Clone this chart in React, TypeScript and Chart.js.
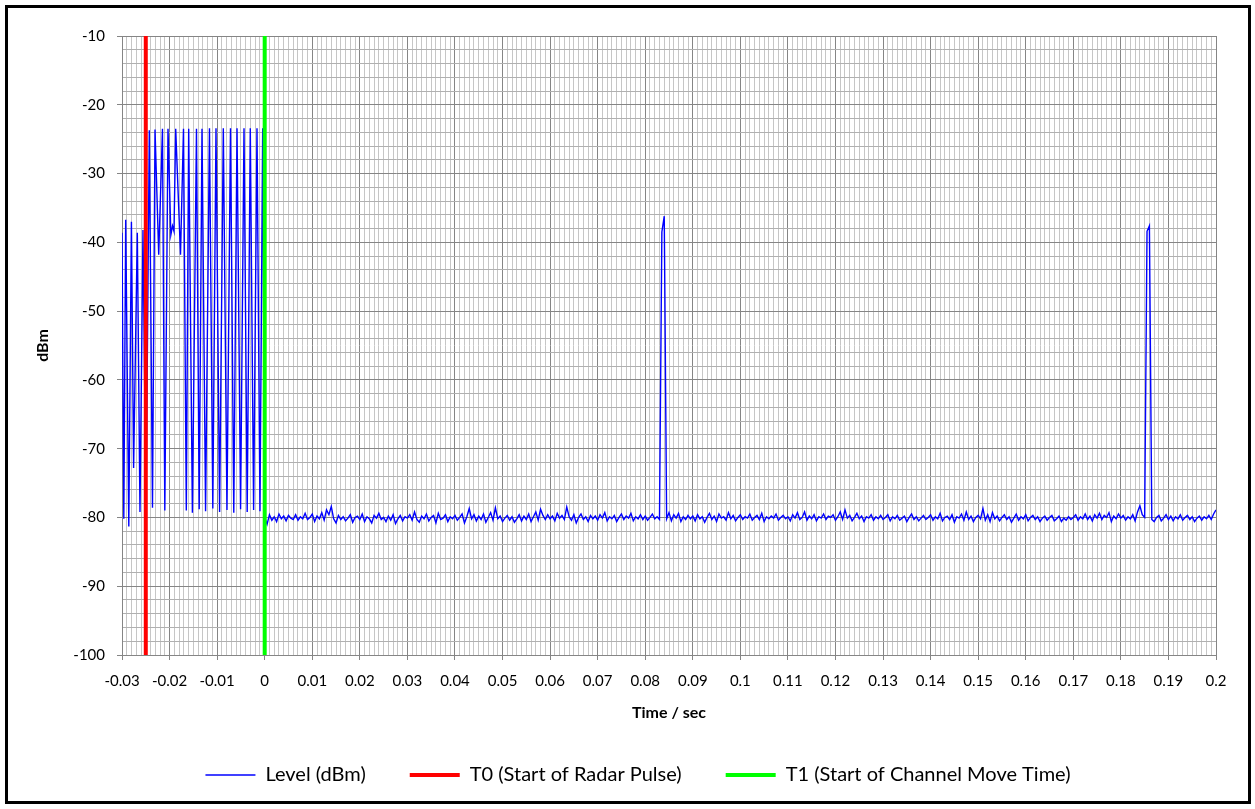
import React, { useEffect, useRef } from "react";
import { Chart, registerables } from "chart.js";

Chart.register(...registerables);

// ---------- DATA ----------
// Pulse section (before T1), time in seconds
const pulseTimes = [
  -0.03, -0.02962, -0.02922, -0.02857, -0.02802, -0.02756, -0.02678, -0.02622, -0.02559, -0.02495,
  -0.02426, -0.02359, -0.02306, -0.02228, -0.02149, -0.021, -0.02033, -0.01973, -0.01938, -0.01907,
  -0.01871, -0.0177, -0.01707, -0.01648, -0.01598, -0.0152, -0.01434, -0.01377, -0.01318, -0.01243,
  -0.01161, -0.01091, -0.01024, -0.00948, -0.0087, -0.00793, -0.00719, -0.0065, -0.00582, -0.00507,
  -0.00435, -0.00368, -0.00303, -0.00233, -0.00162, -0.00099, -0.00042,
];
const pulseLevels = [
  -38.6, -80.2, -36.7, -81.3, -37.0, -72.8, -38.6, -79.2, -38.2, -78.9,
  -23.7, -78.6, -23.6, -41.8, -23.5, -79.0, -23.5, -38.9, -37.6, -38.4,
  -23.5, -41.8, -23.5, -79.0, -23.5, -79.3, -23.5, -78.8, -23.5, -79.1,
  -23.4, -78.7, -23.4, -79.2, -23.4, -78.9, -23.4, -79.3, -23.4, -78.8,
  -23.4, -79.2, -23.4, -78.9, -23.4, -79.1, -23.4,
];

// After T1: samples every 0.5 ms from 0 s to 0.2 s
const noiseStep = 0.0005;
const noiseLevels = [
  -80.0, -81.0, -79.6, -80.4, -79.9, -80.6, -79.5, -80.2, -79.8, -80.5, -79.7, -80.1, -80.3, -79.6, -80.4, -79.9, -80.2, -79.4, -80.3, -80.0,
  -79.5, -80.6, -79.8, -80.2, -79.3, -80.4, -78.9, -79.6, -78.4, -80.2, -80.8, -79.7, -80.3, -79.9, -80.5, -80.1, -79.6, -80.7, -80.0, -79.8,
  -80.3, -79.5, -80.6, -79.9, -80.2, -80.8, -79.7, -80.1, -79.4, -80.3, -80.0, -80.6, -79.8, -80.4, -79.6, -80.9, -80.2, -79.7, -80.5, -79.9,
  -80.1, -79.6, -80.4, -79.2, -80.3, -80.7, -79.8, -80.2, -79.5, -80.5, -80.0, -79.7, -80.8, -79.4, -80.3, -80.1, -79.6, -80.6, -79.9, -80.2,
  -79.7, -80.4, -80.0, -79.5, -80.8, -79.9, -78.7, -80.2, -79.6, -80.5, -79.8, -80.3, -79.5, -80.7, -80.0, -79.3, -80.4, -78.6, -80.2, -79.8,
  -80.6, -80.1, -79.7, -80.4, -79.9, -80.7, -80.2, -79.6, -80.5, -79.8, -80.3, -79.5, -80.6, -79.9, -79.2, -80.4, -78.8, -79.7, -80.3, -79.6,
  -80.2, -79.8, -80.5, -79.4, -80.1, -79.7, -80.3, -78.5, -79.9, -80.4, -79.6, -80.8, -80.0, -79.5, -80.3, -79.9, -80.6, -79.7, -80.2, -79.8,
  -80.4, -79.6, -80.1, -79.3, -80.5, -79.9, -80.2, -79.7, -80.6, -80.0, -79.5, -80.3, -79.8, -80.1, -79.4, -80.5, -79.9, -80.2, -79.6, -80.3,
  -79.8, -80.4, -80.0, -79.5, -80.2, -79.9, -80.3, -38.5, -36.2, -80.2, -79.3, -80.5, -79.6, -80.1, -79.4, -80.6, -79.9, -80.3, -79.7, -80.2,
  -79.8, -80.5, -79.6, -80.2, -79.9, -80.7, -80.0, -79.4, -80.3, -79.8, -80.6, -79.5, -80.1, -79.9, -80.4, -79.3, -80.2, -79.7, -80.5, -80.0,
  -79.6, -80.3, -79.9, -80.1, -79.5, -80.4, -80.0, -79.7, -80.3, -79.4, -80.6, -79.9, -80.2, -79.8, -80.1, -79.5, -80.4, -80.0, -79.7, -80.2,
  -79.9, -80.5, -79.6, -80.1, -79.3, -80.3, -80.0, -79.2, -80.4, -79.8, -80.2, -79.6, -80.5, -79.9, -80.1, -79.5, -80.3, -79.8, -80.0, -79.6,
  -80.4, -79.9, -79.2, -80.3, -78.9, -80.1, -79.7, -80.5, -80.0, -79.4, -80.2, -79.8, -80.6, -79.9, -80.1, -79.6, -80.4, -79.9, -80.2, -79.7,
  -80.3, -80.0, -79.6, -80.5, -79.9, -80.2, -79.7, -80.4, -80.1, -79.8, -80.6, -80.0, -79.5, -80.3, -79.9, -80.5, -80.1, -79.7, -80.3, -80.0,
  -79.6, -80.4, -79.9, -80.2, -79.4, -80.5, -80.0, -79.8, -80.3, -79.6, -80.7, -79.9, -80.1, -79.5, -80.4, -79.2, -80.3, -79.8, -80.6, -80.0,
  -79.7, -80.2, -78.7, -80.4, -79.6, -80.6, -79.3, -80.2, -79.8, -80.5, -80.0, -79.6, -80.3, -79.9, -80.7, -80.1, -79.5, -80.4, -79.9, -80.2,
  -79.6, -80.5, -80.0, -79.7, -80.3, -79.9, -80.6, -80.1, -79.8, -80.4, -80.0, -79.7, -80.5, -80.2, -79.8, -80.6, -80.1, -80.4, -79.9, -80.3,
  -80.0, -79.6, -80.4, -79.9, -80.2, -79.5, -80.3, -79.8, -80.5, -79.6, -80.1, -79.4, -80.3, -79.7, -80.0, -79.3, -80.6, -79.8, -80.2, -79.5,
  -80.1, -79.7, -80.4, -79.9, -80.2, -79.6, -80.5, -79.2, -78.3, -79.6, -80.0, -38.4, -37.6, -80.3, -80.6, -80.0, -79.7, -80.5, -80.1, -79.6,
  -80.3, -79.8, -80.5, -79.9, -80.2, -79.6, -80.4, -80.0, -79.7, -80.3, -79.9, -80.6, -80.1, -79.8, -80.4, -79.9, -80.2, -79.7, -80.3, -79.5,
  -78.9,
];

const seriesNames = ["Level (dBm)", "T0 (Start of Radar Pulse)", "T1 (Start of Channel Move Time)"];
const markerTimes = [-0.025, 0];
const xMin = -0.03;
const xMax = 0.2;
const xMinorStep = 0.001;
const yMin = -100;
const yMax = -10;
const yMinorStep = 2;
const xTitle = "Time / sec";
const yTitle = "dBm";

// ---------- STYLE ----------
const FONT = "Lato, 'Open Sans', sans-serif";
const MAJOR = "#858585";
const MINOR_V = "#c6c6c6";
const MINOR_H = "#b0b0b0";

const isMajorX = (v: number) => Math.abs(Math.round(v * 1000)) % 10 === 0;
const isMajorY = (v: number) => Math.abs(Math.round(v)) % 10 === 0;

export default function App() {
  const ref = useRef<HTMLCanvasElement | null>(null);

  useEffect(() => {
    if (!ref.current) return;
    const levelData = [
      ...pulseTimes.map((t, i) => ({ x: t, y: pulseLevels[i] })),
      ...noiseLevels.map((v, i) => ({ x: i * noiseStep, y: v })),
    ];
    const markerData = markerTimes.map((t) => [
      { x: t, y: yMin },
      { x: t, y: yMax },
    ]);

    const chart = new Chart(ref.current, {
      type: "line",
      data: {
        datasets: [
          {
            label: seriesNames[0],
            data: levelData,
            borderColor: "#0000ff",
            backgroundColor: "#0000ff",
            borderWidth: 1.4,
            pointRadius: 0,
            tension: 0,
            order: 3,
          },
          {
            label: seriesNames[1],
            data: markerData[0],
            borderColor: "#ff0000",
            backgroundColor: "#ff0000",
            borderWidth: 4,
            pointRadius: 0,
            order: 1,
          },
          {
            label: seriesNames[2],
            data: markerData[1],
            borderColor: "#00ff00",
            backgroundColor: "#00ff00",
            borderWidth: 4,
            pointRadius: 0,
            order: 2,
          },
        ],
      },
      options: {
        responsive: false,
        animation: false,
        devicePixelRatio: 1,
        layout: { padding: { left: 52, right: 32, top: 28, bottom: 6 } },
        plugins: {
          tooltip: { enabled: false },
          legend: {
            position: "bottom",
            labels: {
              usePointStyle: true,
              pointStyle: "line",
              pointStyleWidth: 50,
              padding: 44,
              color: "#000",
              font: { family: FONT, size: 20 },
              sort: (a: any, b: any) => a.datasetIndex - b.datasetIndex,
            },
          },
        },
        scales: {
          x: {
            type: "linear",
            min: xMin,
            max: xMax,
            afterFit: (s: any) => {
              s.height = 66;
            },
            ticks: {
              stepSize: xMinorStep,
              autoSkip: false,
              maxRotation: 0,
              minRotation: 0,
              padding: 12,
              color: "#000",
              font: { family: FONT, size: 15 },
              callback: (v: any) => (isMajorX(Number(v)) ? String(Math.round(Number(v) * 100) / 100) : ""),
            },
            grid: {
              color: (c: any) => (isMajorX(c.tick.value) ? MAJOR : MINOR_V),
              tickColor: (c: any) => (isMajorX(c.tick.value) ? MAJOR : "rgba(0,0,0,0)"),
              tickLength: 5,
              lineWidth: 1,
            },
            border: { color: MAJOR, width: 1 },
            title: {
              display: true,
              text: xTitle,
              color: "#000",
              font: { family: FONT, size: 16, weight: "bold" },
              padding: { top: 0, bottom: -1.6 },
            },
          },
          y: {
            type: "linear",
            min: yMin,
            max: yMax,
            afterFit: (s: any) => {
              s.width = 62;
            },
            ticks: {
              stepSize: yMinorStep,
              autoSkip: false,
              padding: 12,
              color: "#000",
              font: { family: FONT, size: 15 },
              callback: (v: any) => (isMajorY(Number(v)) ? String(Math.round(Number(v))) : ""),
            },
            grid: {
              color: (c: any) => (isMajorY(c.tick.value) ? MAJOR : MINOR_H),
              tickColor: (c: any) => (isMajorY(c.tick.value) ? MAJOR : "rgba(0,0,0,0)"),
              tickLength: 5,
              lineWidth: 1,
            },
            border: { color: MAJOR, width: 1 },
            title: {
              display: true,
              text: yTitle,
              color: "#000",
              font: { family: FONT, size: 16, weight: "bold" },
              padding: { top: -27, bottom: 0 },
            },
          },
        },
      },
    } as any);
    return () => chart.destroy();
  }, []);

  return (
    <div
      style={{
        position: "absolute",
        left: 5,
        top: 5,
        width: 1246,
        height: 799,
        boxSizing: "border-box",
        border: "3px solid #000",
        background: "#fff",
      }}
    >
      <canvas ref={ref} width={1240} height={793} style={{ display: "block", width: 1240, height: 793 }} />
    </div>
  );
}
